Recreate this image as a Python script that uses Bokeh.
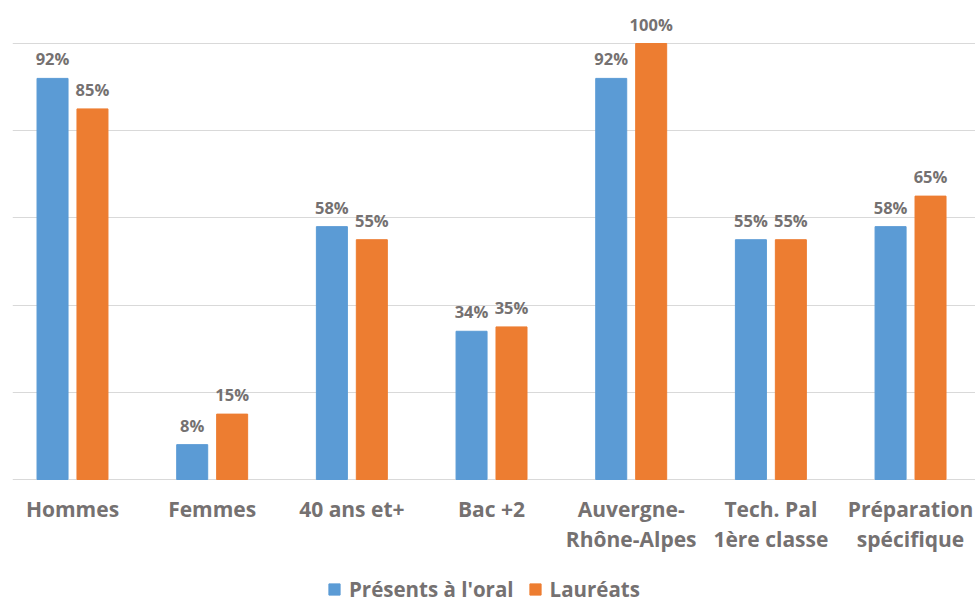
from bokeh.plotting import figure
from bokeh.models import (ColumnDataSource, FixedTicker, Range1d, Legend, LegendItem,
                          LabelSet, Grid)
from bokeh.core.properties import value
from bokeh.embed import file_html
from bokeh.resources import INLINE

categories = ["Hommes", "Femmes", "40 ans et+", "Bac +2", "Auvergne-\nRhône-Alpes",
              "Tech. Pal\n1ère classe", "Préparation\nspécifique"]
presents = [92, 8, 58, 34, 92, 55, 58]
laureats = [85, 15, 55, 35, 100, 55, 65]
series_names = ["Présents à l'oral", "Lauréats"]
grid_ticks = [0, 20, 40, 60, 80, 100]

BLUE = "#5B9BD5"
ORANGE = "#ED7D31"
TEXT = "#757171"
FONT = "Open Sans"

xs = list(range(len(categories)))
off = 0.143
bw = 0.222
label_y = -3.44

src_p = ColumnDataSource(dict(x=[x - off for x in xs], top=presents,
                              lab=[f"{v}%" for v in presents]))
src_l = ColumnDataSource(dict(x=[x + off for x in xs], top=laureats,
                              lab=[f"{v}%" for v in laureats]))
src_c = ColumnDataSource(dict(x=xs, y=[label_y] * len(xs), t=categories))

p = figure(frame_width=963, frame_height=592, output_backend="svg",
           toolbar_location=None, x_range=Range1d(-0.4296, 6.465),
           y_range=Range1d(-27.75, 108.03), x_axis_location=None, y_axis_location=None,
           min_border_left=12, min_border_right=0, min_border_top=8, min_border_bottom=0)
p.outline_line_color = None

# hide default grids, add a horizontal one at the chart's gridline values
for g in list(p.center):
    if isinstance(g, Grid):
        g.visible = False
p.add_layout(Grid(dimension=1, ticker=FixedTicker(ticks=grid_ticks),
                  grid_line_color="#D9D9D9", grid_line_width=1))

r1 = p.vbar(x="x", top="top", width=bw, source=src_p, color=BLUE)
r2 = p.vbar(x="x", top="top", width=bw, source=src_l, color=ORANGE)

for src in (src_p, src_l):
    p.add_layout(LabelSet(x="x", y="top", text="lab", source=src, y_offset=13,
                          text_align="center", text_baseline="alphabetic",
                          text_font=value(FONT), text_font_style="bold",
                          text_font_size="16.5px", text_color=TEXT))

# category labels (x axis)
p.text(x="x", y="y", text="t", source=src_c, text_align="center", text_baseline="top",
       text_font=value(FONT), text_font_style="bold", text_font_size="21px",
       text_line_height=1.1, text_color=TEXT)

legend = Legend(items=[LegendItem(label=series_names[0], renderers=[r1]),
                       LegendItem(label=series_names[1], renderers=[r2])],
                orientation="horizontal", location=(315, -3),
                label_text_font=FONT, label_text_font_style="bold",
                label_text_font_size="20.5px", label_text_color=TEXT,
                glyph_width=14, glyph_height=14, spacing=14, label_standoff=8,
                border_line_color=None, background_fill_alpha=0,
                margin=0, padding=0)
p.add_layout(legend, "center")

open("out.html", "w").write(file_html(p, INLINE))
